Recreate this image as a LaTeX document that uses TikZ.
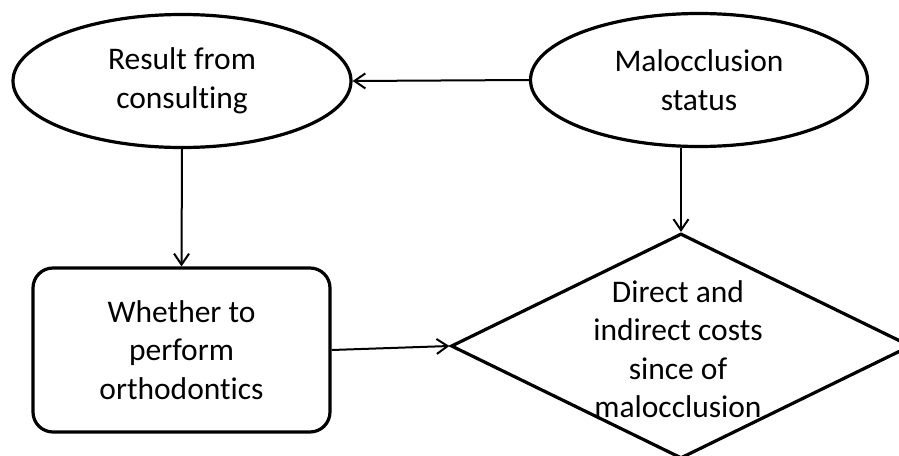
\documentclass[tikz,border=0pt]{standalone}
\usepackage{fontspec}
\setmainfont{Carlito}[Ligatures=NoCommon]
\usetikzlibrary{shapes.geometric,arrows.meta}
\begin{document}
\begin{tikzpicture}[x=1pt,y=-1pt,
  lbl/.style={font=\fontsize{31.5}{38.5}\selectfont, align=center, inner sep=0pt},
  shp/.style={draw, line width=3.2pt, inner sep=0pt},
  conn/.style={line width=2pt, -{Straight Barb[length=11pt,width=15pt,line width=2pt]}}]
\useasboundingbox (0,0) rectangle (899,455);
\node[shp, ellipse, minimum width=338pt, minimum height=133pt, lbl] (r) at (182,81) {Result from\\consulting};
\node[shp, ellipse, minimum width=337pt, minimum height=133pt, lbl] (m) at (699,80) {Malocclusion\\status};
\node[shp, rounded corners=20pt, minimum width=297pt, minimum height=164pt, lbl] (w) at (181.5,350) {Whether to\\perform\\orthodontics};
\node[shp, diamond, aspect=2.04, minimum width=460pt, minimum height=225pt] (d) at (681,346) {};
\node[lbl] (dt) at (678,349) {Direct and\\indirect costs\\since of\\malocclusion};
\draw[conn] (m.west) -- (r.east);
\draw[conn] (r.south) -- (w.north);
\draw[conn] (m.south -| d.north) -- (d.north);
\draw[conn] (w.east) -- (d.west);
\end{tikzpicture}
\end{document}
